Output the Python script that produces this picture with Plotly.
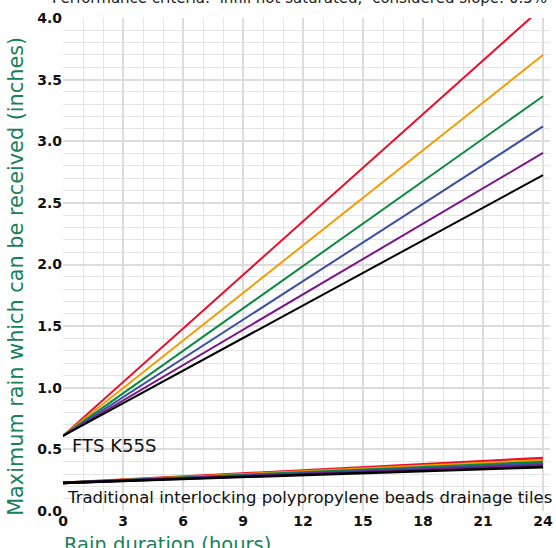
import plotly.graph_objects as go

hours = [0, 24]
series_names = ["Red", "Orange", "Green", "Blue", "Purple", "Black"]
colors = ["#e8102c", "#f39c00", "#0a8a3e", "#3a4fa2", "#7b1689", "#000000"]
fts_start = 0.61
fts_end = [4.09, 3.70, 3.365, 3.12, 2.905, 2.725]
trad_start = 0.228
trad_end = [0.43, 0.412, 0.397, 0.382, 0.37, 0.356]
x_ticks = [0, 3, 6, 9, 12, 15, 18, 21, 24]

fig = go.Figure()
for name, c, e in zip(series_names, colors, trad_end):
    fig.add_trace(go.Scatter(x=hours, y=[trad_start, e], mode="lines",
                             line=dict(color=c, width=2.6), name=name, showlegend=False))
for name, c, e in zip(series_names, colors, fts_end):
    fig.add_trace(go.Scatter(x=hours, y=[fts_start, e], mode="lines",
                             line=dict(color=c, width=2), name=name, showlegend=False))

green = "#17805a"
tickfont = dict(family="DejaVu Sans", size=14, color="#111", weight="bold")
fig.update_layout(
    width=556, height=548,
    margin=dict(l=63, r=3, t=18, b=37),
    paper_bgcolor="white", plot_bgcolor="white",
    xaxis=dict(range=[0, 24.35], tickvals=x_ticks, showgrid=True, gridcolor="#dcdcdc",
               gridwidth=2, zeroline=False, showline=False, ticks="", tickfont=tickfont,
               minor=dict(dtick=1, showgrid=True, gridcolor="#e4e4e4", gridwidth=1)),
    yaxis=dict(range=[0, 4], dtick=0.5, tickformat=".1f", showgrid=True, gridcolor="#dcdcdc",
               gridwidth=2, zeroline=False, showline=False, ticks="", tickfont=tickfont,
               minor=dict(dtick=0.1, showgrid=True, gridcolor="#e4e4e4", gridwidth=1)),
    annotations=[
        dict(text="Performance criteria:  infill not saturated;  considered slope: 0.5%",
             xref="paper", yref="paper", x=0.485, y=1, yanchor="bottom", yshift=9,
             showarrow=False, font=dict(family="DejaVu Sans", size=15, color="#222")),
        dict(text="FTS K55S", xref="x", yref="y", x=0.35, y=0.533, xanchor="left",
             yanchor="middle", showarrow=False,
             font=dict(family="DejaVu Sans", size=18, color="#111")),
        dict(text="Traditional interlocking polypropylene beads drainage tiles",
             xref="x", yref="y", x=0.08, y=0.11, xanchor="left", yanchor="middle",
             showarrow=False, font=dict(family="DejaVu Sans", size=16.5, color="#111")),
        dict(text="Rain duration (hours)", xref="paper", yref="paper", x=-0.003, y=0,
             xanchor="left", yanchor="top", yshift=-20, showarrow=False,
             font=dict(family="DejaVu Sans", size=19.5, color=green)),
        dict(text="Maximum rain which can be received (inches)", xref="paper", yref="paper",
             x=0, y=0.475, xanchor="center", yanchor="middle", xshift=-47, textangle=-90,
             showarrow=False, font=dict(family="DejaVu Sans", size=20.8, color=green)),
    ],
)
fig.write_html("out.html", config={"displayModeBar": False},
               post_script="document.body.style.margin='0';")
